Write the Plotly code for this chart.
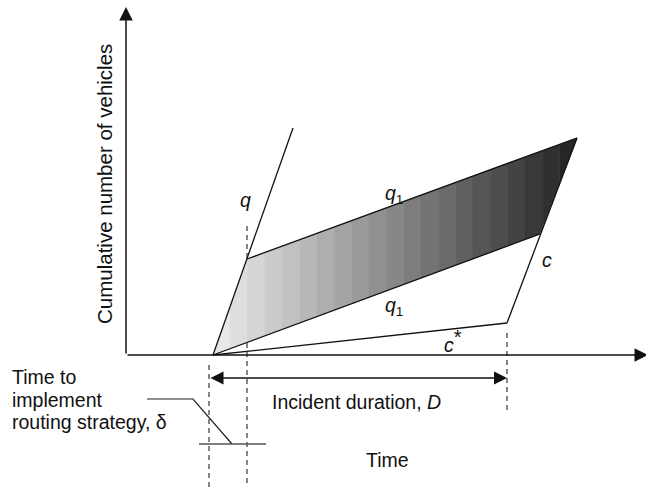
import numpy as np
import plotly.graph_objects as go

# time / cumulative vehicles, in drawing units (origin at the axes corner)
t_incident = 87          # incident starts
t_route = 121            # routing strategy in place (delta later)
t_end = 381              # incident cleared
t_dash_left = 83

q_t = [87, 167]
q_n = [0, 227]

# shaded region: start, route point, upper right, lower right
shade_t = [87, 121, 451, 414]
shade_n = [0, 96, 217, 121]

upper_q1_t = [121, 451]
upper_q1_n = [96, 217]
lower_q1_t = [87, 414]
lower_q1_n = [0, 121]
c_t = [451, 381]
c_n = [217, 32]
cstar_t = [87, 381]
cstar_n = [0, 32]

leader_t = [21, 67, 106]
leader_n = [-44, -44, -89]
tick_t = [73, 140]
tick_n = [-89, -89]

N_STRIPES = 21
FONT = "Liberation Sans, Arial, sans-serif"
FS = 19.5


def clip(poly, x0, x1):
    # keep the part of a polygon with x0 <= x <= x1
    def cut(pts, inside, inter):
        out = []
        for i in range(len(pts)):
            a, b = pts[i - 1], pts[i]
            if inside(b):
                if not inside(a):
                    out.append(inter(a, b))
                out.append(b)
            elif inside(a):
                out.append(inter(a, b))
        return out

    def at_x(xv):
        def f(a, b):
            s = (xv - a[0]) / (b[0] - a[0])
            return (xv, a[1] + s * (b[1] - a[1]))
        return f

    pts = cut(poly, lambda p: p[0] >= x0, at_x(x0))
    if pts:
        pts = cut(pts, lambda p: p[0] <= x1, at_x(x1))
    return pts


fig = go.Figure()

line = dict(color="#111111", width=1.3)
dash = dict(color="#444444", width=1.3, dash="5px,4px")

# dashed guides (drawn first so the shading covers them)
fig.add_trace(go.Scatter(x=[t_dash_left, t_dash_left], y=[-10, -132], mode="lines", line=dash))
fig.add_trace(go.Scatter(x=[t_route, t_route], y=[129, -132], mode="lines", line=dash))
fig.add_trace(go.Scatter(x=[t_end, t_end], y=[22, -58], mode="lines", line=dash))

poly = list(zip(shade_t, shade_n))
edges = np.linspace(min(shade_t), max(shade_t), N_STRIPES + 1)
for i in range(N_STRIPES):
    pts = clip(poly, edges[i], edges[i + 1])
    if not pts:
        continue
    g = int(round(232 - (232 - 38) * i / (N_STRIPES - 1)))
    col = f"rgb({g},{g},{g})"
    xs = [p[0] for p in pts] + [pts[0][0]]
    ys = [p[1] for p in pts] + [pts[0][1]]
    fig.add_trace(go.Scatter(x=xs, y=ys, mode="lines", fill="toself", fillcolor=col,
                             line=dict(color=col, width=0.6)))

for xs, ys in [(q_t, q_n), (upper_q1_t, upper_q1_n), (lower_q1_t, lower_q1_n),
               (c_t, c_n), (cstar_t, cstar_n)]:
    fig.add_trace(go.Scatter(x=xs, y=ys, mode="lines", line=line))

fig.add_trace(go.Scatter(x=leader_t, y=leader_n, mode="lines", line=dict(color="#222222", width=1.2)))
fig.add_trace(go.Scatter(x=tick_t, y=tick_n, mode="lines", line=dict(color="#555555", width=1.5)))


def arrow(x, y, ax, ay, side="end", width=1.5, size=1.8):
    fig.add_annotation(x=x, y=y, ax=ax, ay=ay, xref="x", yref="y", axref="x", ayref="y",
                       text="", showarrow=True, arrowhead=2, arrowside=side,
                       arrowwidth=width, arrowsize=size, arrowcolor="#111111",
                       standoff=0, startstandoff=0)


arrow(0, 348, 0, 0)                 # vertical axis
arrow(522, 0, 0, 0)                 # horizontal axis
arrow(t_end, -23, t_dash_left, -23, side="end+start", width=1.3, size=2.0)


def label(x, y, text, anchor="center", size=FS):
    fig.add_annotation(x=x, y=y, xref="x", yref="y", text=text, showarrow=False,
                       xanchor=anchor, yanchor="middle",
                       font=dict(family=FONT, size=size, color="#111111"))


label(119, 155, "<i>q</i>")
label(268, 161, "<i>q</i><sub>1</sub>")
label(268, 49, "<i>q</i><sub>1</sub>")
label(421, 95, "<i>c</i>")
label(327, 14, "<i>c</i><sup><span style='font-size:20px'>*</span></sup>")
label(230, -47, "Incident duration, <i>D</i>")
label(261, -105, "Time")
label(-116, -22, "Time to", "left")
label(-116, -45, "implement", "left")
label(-116, -67, "routing strategy, δ", "left")

fig.add_annotation(x=-22, y=171, xref="x", yref="y", text="Cumulative number of vehicles",
                   showarrow=False, textangle=-90,
                   font=dict(family=FONT, size=20.5, color="#111111"))

fig.update_layout(
    width=646, height=490,
    margin=dict(l=0, r=0, t=0, b=0),
    paper_bgcolor="white", plot_bgcolor="white",
    showlegend=False,
    xaxis=dict(range=[-126, 520], visible=False, fixedrange=True),
    yaxis=dict(range=[-135, 355], visible=False, fixedrange=True),
)

fig.write_html("out.html", config={"displayModeBar": False},
               post_script="document.body.style.margin='0';document.body.style.padding='0';")
